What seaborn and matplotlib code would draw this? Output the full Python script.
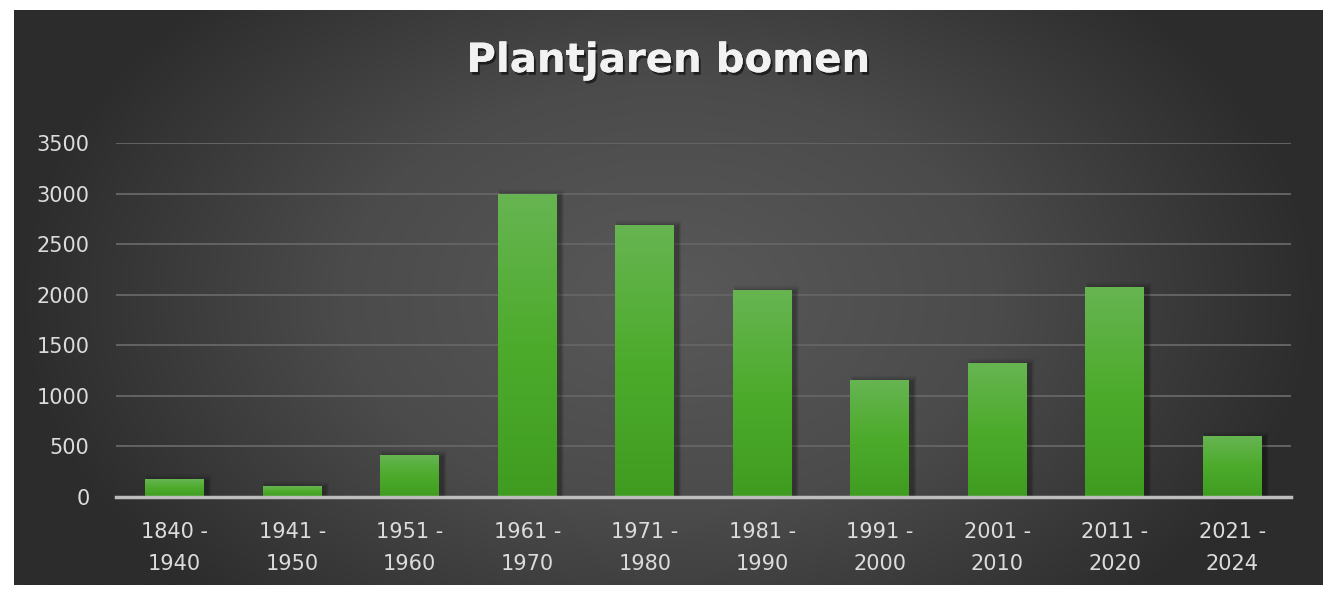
import numpy as np
import pandas as pd
import matplotlib
matplotlib.use("Agg")
import matplotlib.pyplot as plt
import matplotlib.patheffects as pe
from matplotlib.patches import Rectangle
from matplotlib.colors import LinearSegmentedColormap
import seaborn as sns

categories = ["1840 -\n1940", "1941 -\n1950", "1951 -\n1960", "1961 -\n1970", "1971 -\n1980",
              "1981 -\n1990", "1991 -\n2000", "2001 -\n2010", "2011 -\n2020", "2021 -\n2024"]
values = [175, 105, 420, 3000, 2690, 2050, 1160, 1320, 2080, 605]
y_ticks = [0, 500, 1000, 1500, 2000, 2500, 3000, 3500]
title = "Plantjaren bomen"

sns.set_theme(style="white")
plt.rcParams['font.family'] = ['DejaVu Sans']

W, H = 1335, 591
fig = plt.figure(figsize=(W / 100, H / 100), dpi=100, facecolor="white")

# background panel with radial gradient
bx0, bx1, by0, by1 = 14, 1323, 10, 585
bg = fig.add_axes([bx0 / W, 1 - by1 / H, (bx1 - bx0) / W, (by1 - by0) / H])
gx = np.linspace(-1, 1, 600)
gy = np.linspace(-1, 1, 300)
X, Y = np.meshgrid(gx, gy)
R = np.sqrt((X / 1.0) ** 2 + (Y / 1.5) ** 2)
R = np.clip(R, 0, 1.0)
bg_cmap = LinearSegmentedColormap.from_list("bg", ["#595959", "#4b4b4b", "#2c2c2c"])
bg.imshow(R, cmap=bg_cmap, aspect="auto", extent=[0, 1, 0, 1], vmin=0, vmax=1)
bg.set_axis_off()

# main axes
ax_l, ax_r, ax_b, ax_t = 116, 1291, 497, 143
ax = fig.add_axes([ax_l / W, 1 - ax_b / H, (ax_r - ax_l) / W, (ax_b - ax_t) / H])
ax.patch.set_alpha(0)

df = pd.DataFrame({"period": categories, "count": values})
sns.barplot(data=df, x="period", y="count", color="#4caf30", width=0.5,
            saturation=1, ax=ax, zorder=3, edgecolor="none", linewidth=0)

ax.set_ylim(0, 3500)
ax.set_xlim(-0.5, len(categories) - 0.5)
ax.set_yticks(y_ticks)
ax.set_xlabel("")
ax.set_ylabel("")
for s in ["top", "right", "left"]:
    ax.spines[s].set_visible(False)
ax.spines["bottom"].set_color("#bdbdbd")
ax.spines["bottom"].set_linewidth(2.5)
ax.spines["bottom"].set_zorder(5)
ax.yaxis.grid(True, color="#646464", linewidth=1.4)
ax.set_axisbelow(True)
ax.tick_params(axis="both", length=0, labelcolor="#dcdcdc", labelsize=15)
ax.tick_params(axis="y", pad=19)
ax.tick_params(axis="x", pad=18)
for lbl in ax.get_xticklabels():
    lbl.set_linespacing(1.72)

# bar gradient + soft shadow
grad_cmap = LinearSegmentedColormap.from_list("bar", ["#3f9c20", "#4dab2c", "#67b552"])
grad = np.linspace(0, 1, 256).reshape(-1, 1)
px_x = 1.0 / 117.5
px_y = 3500 / 354.0
for p in list(ax.patches):
    x0, w, h = p.get_x(), p.get_width(), p.get_height()
    for k, a in zip(range(1, 8), [0.07, 0.06, 0.05, 0.04, 0.035, 0.03, 0.02]):
        sh = Rectangle((x0 + (2 - k * 0.5) * px_x + 2 * px_x, 0),
                       w + k * px_x, h - (2 - k) * px_y,
                       facecolor="black", edgecolor="none", alpha=a, zorder=2)
        ax.add_patch(sh)
    im = ax.imshow(grad, cmap=grad_cmap, aspect="auto", origin="lower",
                   extent=[x0, x0 + w, 0, h], zorder=3.5)
    im.set_clip_path(p)

ax.set_xlim(-0.5, len(categories) - 0.5)
ax.set_ylim(0, 3500)

fig.text(668 / W, 1 - 61 / H, title, ha="center", va="center",
         fontsize=29, fontweight="bold", color="#f2f2f2",
         family=["DejaVu Sans"],
         path_effects=[pe.withSimplePatchShadow(offset=(1.5, -2), shadow_rgbFace="black", alpha=0.55),
                       pe.Normal()])

fig.savefig("out.png", dpi=100, facecolor="white")
